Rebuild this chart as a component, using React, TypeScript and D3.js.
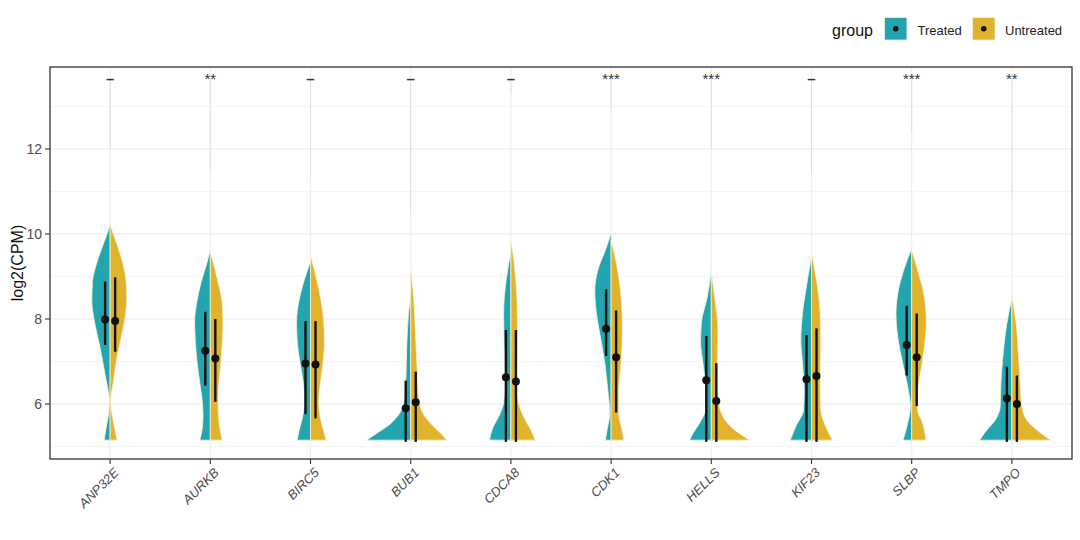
import React from "react";
import * as d3 from "d3";

const genes = ["ANP32E", "AURKB", "BIRC5", "BUB1", "CDCA8", "CDK1", "HELLS", "KIF23", "SLBP", "TMPO"];
const groups = ["Treated", "Untreated"];
const sigLabels = ["–", "**", "–", "–", "–", "***", "***", "–", "***", "**"];

// density profiles [log2CPM, density] from the bottom of each half violin to its top
const treatedDensity: [number, number][][] = [
  [[5.15, 6], [5.44, 4], [5.74, 1.7], [6.05, 0.7], [6.68, 5], [7.32, 10], [7.94, 15.7], [8.41, 18.3], [8.88, 17.7], [9.27, 14], [9.67, 8.3], [9.98, 3.3], [10.25, 0]],
  [[5.15, 10.5], [5.44, 8], [5.74, 7.3], [6.05, 8], [6.52, 10.7], [7.0, 13.3], [7.47, 15], [7.94, 15.7], [8.41, 13.4], [8.88, 9], [9.27, 4], [9.62, 0]],
  [[5.15, 13.3], [5.35, 11.7], [5.66, 8.3], [6.05, 6], [6.52, 7.3], [7.0, 10.7], [7.47, 13.3], [7.94, 14], [8.41, 11.7], [8.88, 6.7], [9.35, 0]],
  [[5.15, 44], [5.31, 34], [5.5, 22], [5.74, 12.3], [6.05, 6.7], [6.52, 5], [7.31, 4], [8.09, 2.3], [8.56, 0]],
  [[5.15, 21.3], [5.39, 19], [5.7, 12.3], [6.02, 7.3], [6.56, 5.7], [7.35, 6.7], [8.13, 7.3], [8.92, 4.7], [9.58, 0]],
  [[5.15, 5.7], [5.39, 4], [5.78, 1.3], [6.33, 3.3], [6.96, 6.3], [7.58, 10.7], [8.13, 14.7], [8.68, 16.3], [9.15, 13.3], [9.62, 5.7], [10.02, 0]],
  [[5.15, 21.7], [5.31, 18.3], [5.55, 11.7], [5.94, 5], [6.49, 6], [6.96, 8.3], [7.43, 10.7], [7.9, 10], [8.52, 4], [9.15, 0]],
  [[5.15, 21.3], [5.47, 15.7], [5.86, 8], [6.33, 7.3], [6.96, 9], [7.5, 10.7], [8.13, 9], [8.92, 4], [9.47, 0]],
  [[5.15, 8.7], [5.55, 4], [5.94, 1.3], [6.41, 4], [6.96, 9], [7.58, 14], [8.13, 15.7], [8.68, 13.3], [9.15, 8], [9.66, 0]],
  [[5.15, 32.3], [5.39, 25], [5.62, 16.7], [5.94, 11.7], [6.49, 11], [7.11, 9], [7.9, 5], [8.49, 0]],
];
const untreatedDensity: [number, number][][] = [
  [[5.15, 7], [5.58, 3.3], [6.05, 0.7], [6.52, 3.3], [7.15, 7.3], [7.62, 11.7], [8.09, 15.3], [8.49, 16.7], [8.88, 16], [9.27, 13.3], [9.66, 8.3], [10.21, 0]],
  [[5.15, 12], [5.58, 8.7], [6.05, 7.7], [6.52, 8.7], [7.0, 10.7], [7.47, 12], [7.94, 12.7], [8.41, 11.7], [8.88, 7.7], [9.58, 0]],
  [[5.15, 15.7], [5.35, 13.3], [5.66, 10], [6.05, 8.3], [6.52, 10], [7.0, 12.7], [7.47, 14], [7.94, 13.3], [8.41, 10.7], [8.88, 6.7], [9.5, 0]],
  [[5.15, 36], [5.27, 31.7], [5.5, 21.7], [5.74, 13.3], [6.14, 8], [6.92, 6.3], [7.7, 4.7], [8.49, 3], [9.15, 0]],
  [[5.15, 24.3], [5.39, 20], [5.7, 12.7], [6.17, 6.7], [6.96, 6], [7.74, 6.7], [8.52, 6], [9.31, 3.3], [9.86, 0]],
  [[5.15, 12.7], [5.39, 11], [5.78, 7.7], [6.33, 7.7], [6.96, 10], [7.74, 11.3], [8.52, 10], [9.31, 5.3], [9.86, 0]],
  [[5.15, 38.3], [5.39, 23.3], [5.7, 11.7], [6.17, 6.7], [6.96, 6], [7.74, 6.7], [8.52, 3.3], [9.15, 0]],
  [[5.15, 21], [5.47, 14.3], [5.86, 9.3], [6.56, 8.7], [7.35, 9.3], [8.13, 8.7], [8.92, 5], [9.55, 0]],
  [[5.15, 14.3], [5.55, 11], [5.86, 6], [6.25, 6], [6.8, 9.3], [7.35, 12.7], [7.9, 14.7], [8.52, 12.7], [9.15, 6], [9.62, 0]],
  [[5.15, 39], [5.39, 25], [5.62, 15], [5.94, 10], [6.49, 8.3], [7.11, 6.7], [7.9, 4.3], [8.53, 0]],
];

// summary: mean, lower, upper
const treatedMean = [7.99, 7.25, 6.95, 5.9, 6.63, 7.77, 6.56, 6.58, 7.39, 6.13];
const treatedLow = [7.39, 6.43, 5.76, 5.11, 5.11, 7.13, 5.11, 5.11, 6.67, 5.11];
const treatedHigh = [8.88, 8.17, 7.95, 6.55, 7.74, 8.7, 7.6, 7.62, 8.31, 6.88];
const untreatedMean = [7.95, 7.07, 6.93, 6.04, 6.53, 7.1, 6.07, 6.66, 7.1, 6.0];
const untreatedLow = [7.23, 6.05, 5.66, 5.11, 5.11, 5.8, 5.11, 5.11, 5.95, 5.11];
const untreatedHigh = [8.98, 8.0, 7.95, 6.76, 7.74, 8.2, 6.96, 7.78, 8.13, 6.67];

// thin upper tails of the violins (outliers up to label height)
const tailBottom = [12.0, 11.5, 11.36, 10.49, 13.3, 12.88, 11.99, 11.43, 12.4, 10.8];
const tailTop = 13.67;

const yMajor = [6, 8, 10, 12];
const yMinor = [5, 7, 9, 11, 13];

const W = 1080, H = 540;
const panel = { left: 50, right: 1072, top: 67, bottom: 459 };
const colors = { Treated: "#22a5ae", Untreated: "#e1b22c" };
const FONT = "'Liberation Sans', Arial, Helvetica, sans-serif";

export default function App() {
  const x = d3.scalePoint<string>().domain(genes).range([panel.left, panel.right]).padding(0.6);
  const step = x.step();
  const y = d3.scaleLinear().domain([4.706, 13.929]).range([panel.bottom, panel.top]);
  const w = d3.scaleLinear().domain([0, 45]).range([0, 0.449 * step]);
  const dodge = 0.05 * step;

  const makeArea = (cx: number, dir: number) =>
    d3
      .area<[number, number]>()
      .y((d) => y(d[0]))
      .x0(cx)
      .x1((d) => cx + dir * w(d[1]))
      .curve(d3.curveMonotoneY);

  return (
    <svg width={W} height={H} style={{ position: "absolute", left: 0, top: 0, background: "#fff" }} fontFamily={FONT}>
      <rect x={0} y={0} width={W} height={H} fill="#fff" />
      {/* grid */}
      <g>
        {yMinor.map((v) => (
          <line key={"mi" + v} x1={panel.left} x2={panel.right} y1={y(v)} y2={y(v)} stroke="#f0f0f0" strokeWidth={0.7} />
        ))}
        {yMajor.map((v) => (
          <line key={"ma" + v} x1={panel.left} x2={panel.right} y1={y(v)} y2={y(v)} stroke="#e9e9e9" strokeWidth={1.2} />
        ))}
        {genes.map((g) => (
          <line key={"vx" + g} x1={x(g)} x2={x(g)} y1={panel.top} y2={panel.bottom} stroke="#efefef" strokeWidth={1.2} />
        ))}
      </g>
      {/* tails */}
      {genes.map((g, i) => (
        <line key={"tail" + g} x1={x(g)} x2={x(g)} y1={y(tailTop)} y2={y(tailBottom[i])} stroke="#e0e0e0" strokeWidth={1} />
      ))}
      {/* violins */}
      {genes.map((g, i) => {
        const cx = x(g) as number;
        return (
          <g key={"v" + g}>
            <path d={makeArea(cx, -1)(treatedDensity[i]) || ""} fill={colors.Treated} stroke="#f6f2dc" strokeWidth={0.8} />
            <path d={makeArea(cx, 1)(untreatedDensity[i]) || ""} fill={colors.Untreated} stroke="#f6f2dc" strokeWidth={0.8} />
          </g>
        );
      })}
      {/* summaries */}
      {genes.map((g, i) => {
        const cx = x(g) as number;
        return (
          <g key={"s" + g}>
            <line x1={cx - dodge} x2={cx - dodge} y1={y(treatedLow[i])} y2={y(treatedHigh[i])} stroke="#111" strokeWidth={2.4} />
            <circle cx={cx - dodge} cy={y(treatedMean[i])} r={4} fill="#111" />
            <line x1={cx + dodge} x2={cx + dodge} y1={y(untreatedLow[i])} y2={y(untreatedHigh[i])} stroke="#111" strokeWidth={2.4} />
            <circle cx={cx + dodge} cy={y(untreatedMean[i])} r={4} fill="#111" />
          </g>
        );
      })}
      {/* significance */}
      {genes.map((g, i) => (
        <text
          key={"sig" + g}
          x={x(g)}
          y={y(tailTop) + 6}
          textAnchor="middle"
          fontSize={15}
          fontWeight={sigLabels[i] === "–" ? "bold" : "normal"}
          fill="#333"
        >
          {sigLabels[i]}
        </text>
      ))}
      {/* panel border */}
      <rect x={panel.left} y={panel.top} width={panel.right - panel.left} height={panel.bottom - panel.top} fill="none" stroke="#333" strokeWidth={1.3} />
      {/* y axis */}
      {yMajor.map((v) => (
        <g key={"yt" + v}>
          <line x1={panel.left - 5} x2={panel.left} y1={y(v)} y2={y(v)} stroke="#333" strokeWidth={1.1} />
          <text x={panel.left - 8} y={y(v)} dy="0.35em" textAnchor="end" fontSize={14} fill="#4d4d4d">
            {v}
          </text>
        </g>
      ))}
      <text transform={`translate(23,${(panel.top + panel.bottom) / 2}) rotate(-90)`} textAnchor="middle" fontSize={16} fill="#111">
        log2(CPM)
      </text>
      {/* x axis */}
      {genes.map((g) => (
        <g key={"xt" + g}>
          <line x1={x(g)} x2={x(g)} y1={panel.bottom} y2={panel.bottom + 5} stroke="#333" strokeWidth={1.1} />
          <text
            transform={`translate(${(x(g) as number) + 3},${panel.bottom + 8}) rotate(-45)`}
            textAnchor="end"
            dy="0.7em"
            fontSize={13}
            fontStyle="italic"
            fill="#4d4d4d"
          >
            {g}
          </text>
        </g>
      ))}
      {/* legend */}
      <text x={832} y={36} fontSize={16} fill="#111">group</text>
      {groups.map((grp, k) => {
        const kx = k === 0 ? 884.5 : 972.5;
        const tx = k === 0 ? 917.5 : 1005;
        return (
          <g key={"lg" + grp}>
            <rect x={kx} y={17.5} width={22.5} height={22.5} fill={colors[grp as keyof typeof colors]} stroke="#f6f2dc" strokeWidth={0.8} />
            <circle cx={kx + 11.25} cy={28.75} r={2.8} fill="#111" />
            <text x={tx} y={34.5} fontSize={13} fill="#222">{grp}</text>
          </g>
        );
      })}
    </svg>
  );
}
